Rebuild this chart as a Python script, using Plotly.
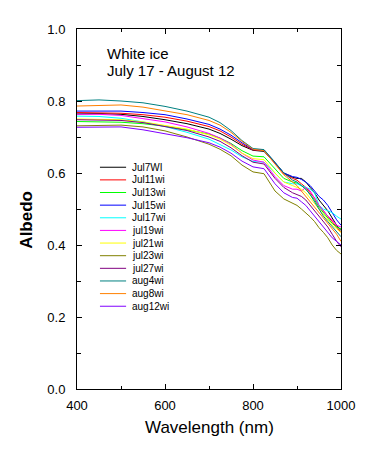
import plotly.graph_objects as go

wavelength = [400, 450, 500, 550, 600, 650, 700, 725, 750, 775, 800, 825, 850,
              870, 890, 900, 910, 920, 930, 940, 950, 960, 970, 980, 990, 1000]

names = ["Jul7WI", "Jul11wi", "Jul13wi", "Jul15wi", "Jul17wi", "jul19wi",
         "jul21wi", "jul23wi", "jul27wi", "aug4wi", "aug8wi", "aug12wi"]
colors = ["#000000", "#FF0000", "#00FF00", "#0000FF", "#00FFFF", "#FF00FF",
          "#FFFF00", "#808000", "#800080", "#008080", "#FF8000", "#8000FF"]

jul7wi = [0.764, 0.765, 0.763, 0.757, 0.748, 0.737, 0.722, 0.710, 0.694, 0.676, 0.663, 0.660, 0.628,
          0.600, 0.588, 0.585, 0.585, 0.575, 0.560, 0.545, 0.525, 0.510, 0.495, 0.475, 0.455, 0.440]
jul11wi = [0.768, 0.768, 0.766, 0.762, 0.755, 0.744, 0.729, 0.717, 0.700, 0.680, 0.664, 0.662, 0.628,
           0.598, 0.585, 0.580, 0.570, 0.560, 0.545, 0.530, 0.510, 0.495, 0.480, 0.465, 0.450, 0.435]
jul13wi = [0.743, 0.743, 0.741, 0.737, 0.730, 0.720, 0.708, 0.697, 0.682, 0.662, 0.647, 0.645, 0.612,
           0.585, 0.575, 0.572, 0.565, 0.555, 0.540, 0.525, 0.505, 0.490, 0.475, 0.460, 0.450, 0.445]
jul15wi = [0.772, 0.773, 0.772, 0.768, 0.762, 0.750, 0.735, 0.722, 0.705, 0.684, 0.665, 0.664, 0.630,
           0.600, 0.590, 0.588, 0.582, 0.575, 0.565, 0.550, 0.535, 0.525, 0.510, 0.490, 0.470, 0.455]
jul17wi = [0.758, 0.757, 0.752, 0.742, 0.729, 0.713, 0.694, 0.680, 0.664, 0.645, 0.632, 0.630, 0.598,
           0.575, 0.570, 0.570, 0.565, 0.560, 0.555, 0.545, 0.510, 0.500, 0.495, 0.490, 0.480, 0.472]
jul19wi = [0.763, 0.763, 0.760, 0.752, 0.742, 0.728, 0.710, 0.697, 0.680, 0.655, 0.636, 0.630, 0.590,
           0.565, 0.555, 0.555, 0.550, 0.560, 0.550, 0.530, 0.510, 0.495, 0.480, 0.470, 0.455, 0.450]
jul21wi = [0.750, 0.750, 0.748, 0.742, 0.733, 0.722, 0.706, 0.694, 0.677, 0.655, 0.640, 0.637, 0.600,
           0.575, 0.565, 0.560, 0.555, 0.545, 0.530, 0.515, 0.500, 0.485, 0.470, 0.455, 0.445, 0.435]
jul23wi = [0.731, 0.733, 0.733, 0.728, 0.717, 0.700, 0.680, 0.666, 0.648, 0.622, 0.603, 0.598, 0.550,
           0.528, 0.515, 0.510, 0.500, 0.490, 0.478, 0.465, 0.448, 0.435, 0.420, 0.400, 0.385, 0.375]
jul27wi = [0.748, 0.748, 0.746, 0.740, 0.730, 0.718, 0.700, 0.688, 0.670, 0.648, 0.630, 0.625, 0.585,
           0.560, 0.545, 0.540, 0.535, 0.525, 0.510, 0.495, 0.480, 0.465, 0.450, 0.430, 0.410, 0.395]
aug4wi = [0.801, 0.803, 0.800, 0.795, 0.785, 0.772, 0.755, 0.740, 0.718, 0.690, 0.668, 0.665, 0.630,
          0.600, 0.580, 0.575, 0.565, 0.555, 0.540, 0.520, 0.500, 0.480, 0.465, 0.450, 0.435, 0.423]
aug8wi = [0.786, 0.788, 0.789, 0.783, 0.773, 0.762, 0.746, 0.733, 0.713, 0.688, 0.666, 0.662, 0.625,
          0.595, 0.575, 0.565, 0.550, 0.535, 0.520, 0.505, 0.490, 0.475, 0.460, 0.445, 0.430, 0.410]
aug12wi = [0.727, 0.728, 0.728, 0.720, 0.710, 0.698, 0.684, 0.672, 0.655, 0.633, 0.617, 0.612, 0.570,
           0.545, 0.532, 0.530, 0.520, 0.510, 0.495, 0.480, 0.465, 0.450, 0.435, 0.420, 0.410, 0.400]

series = [jul7wi, jul11wi, jul13wi, jul15wi, jul17wi, jul19wi,
          jul21wi, jul23wi, jul27wi, aug4wi, aug8wi, aug12wi]

title_lines = ["White ice", "July 17 - August 12"]
x_ticks = [400, 600, 800, 1000]
y_ticks = [0.0, 0.2, 0.4, 0.6, 0.8, 1.0]

FONT = "Arial, Liberation Sans, sans-serif"

fig = go.Figure()
for name, col, vals in zip(names, colors, series):
    fig.add_trace(go.Scatter(x=wavelength, y=vals, mode="lines", name=name,
                             line=dict(color=col, width=1), showlegend=False))

# custom compact legend
shapes = []
annotations = []
leg_top = 0.616   # paper y of first entry
leg_step = 0.0351
for i, (name, col) in enumerate(zip(names, colors)):
    yy = leg_top - i * leg_step
    shapes.append(dict(type="line", xref="paper", yref="paper",
                       x0=0.087, x1=0.186, y0=yy, y1=yy,
                       line=dict(color=col, width=1)))
    annotations.append(dict(text=name, xref="paper", yref="paper", x=0.200, y=yy,
                            xanchor="left", yanchor="middle", showarrow=False,
                            font=dict(family=FONT, size=10, color="black")))

annotations.append(dict(text=title_lines[0], xref="paper", yref="paper", x=0.106, y=0.931,
                        xanchor="left", yanchor="middle", showarrow=False,
                        font=dict(family=FONT, size=15, color="black")))
annotations.append(dict(text=title_lines[1], xref="paper", yref="paper", x=0.106, y=0.886,
                        xanchor="left", yanchor="middle", showarrow=False,
                        font=dict(family=FONT, size=15, color="black")))
annotations.append(dict(text="Wavelength (nm)", xref="paper", yref="paper", x=0.5, y=-0.106,
                        xanchor="center", yanchor="middle", showarrow=False,
                        font=dict(family=FONT, size=17, color="black")))
annotations.append(dict(text="<b>Albedo</b>", xref="paper", yref="paper", x=-0.19, y=0.47,
                        xanchor="center", yanchor="middle", showarrow=False, textangle=-90,
                        font=dict(family=FONT, size=17, color="black")))

axis_common = dict(showline=True, linecolor="black", linewidth=1, mirror="ticks",
                   ticks="inside", ticklen=5, tickcolor="black", tickwidth=1,
                   showgrid=False, zeroline=False,
                   tickfont=dict(family=FONT, size=13, color="black"))

# page body has an 8px margin, so the figure is 8px smaller and margins are offset
fig.update_layout(
    width=369, height=454,
    margin=dict(l=69, r=36, t=21, b=73),
    paper_bgcolor="white", plot_bgcolor="white",
    shapes=shapes, annotations=annotations,
    xaxis=dict(range=[400, 1000], tickvals=x_ticks, ticktext=[str(v) for v in x_ticks],
               minor=dict(ticks="inside", ticklen=3, dtick=100, tickcolor="black", showgrid=False),
               ticklabelstandoff=4, **axis_common),
    yaxis=dict(range=[0, 1], tickvals=y_ticks, ticktext=[f"{v:.1f}" for v in y_ticks],
               minor=dict(ticks="inside", ticklen=4, dtick=0.1, tickcolor="black", showgrid=False),
               ticklabelstandoff=8, **axis_common),
)

fig.write_html("out.html")
